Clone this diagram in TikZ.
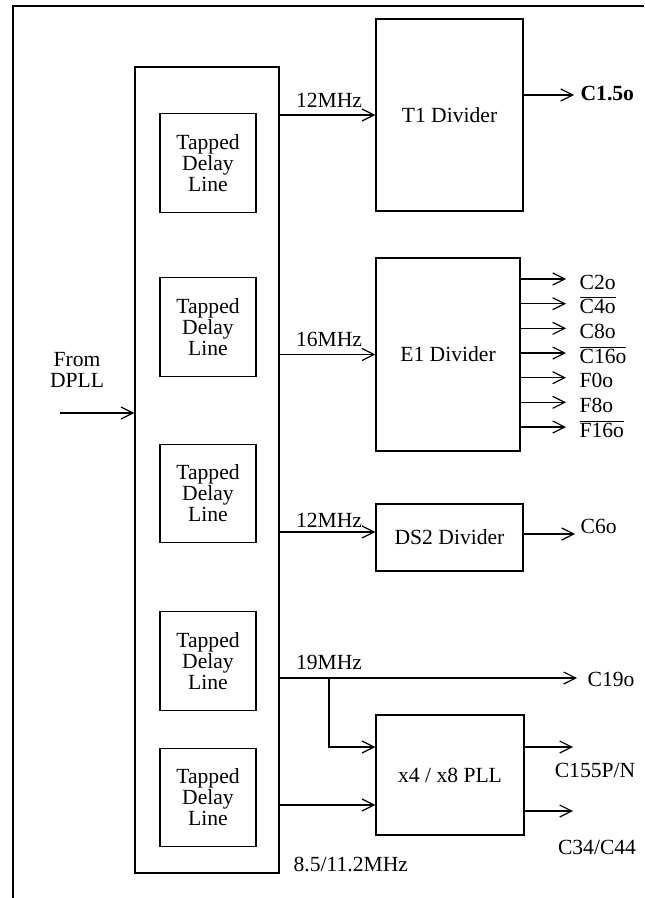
\documentclass[tikz,border=0pt]{standalone}
\usepackage{fontspec}
\setmainfont{Liberation Serif}
\usetikzlibrary{arrows.meta}

\begin{document}
\begin{tikzpicture}[
  x=0.75pt, y=-0.75pt, line width=0.9pt,
  font=\fontsize{16.2}{15.8}\selectfont,
  bank/.style={draw, minimum width=108pt, minimum height=604.5pt, inner sep=0pt},
  tdl/.style={draw, minimum width=72pt, minimum height=74pt,
              inner sep=0pt, align=center},
  divbox/.style={draw, minimum width=110.25pt, inner sep=0pt, align=center},
  flow/.style={-{Straight Barb[length=9pt, width=9pt]}},
  outlbl/.style={inner sep=0pt, anchor=base west},
  freq/.style={inner sep=0pt}
]
  \useasboundingbox (0,0) rectangle (644,898);
  % frame (cut at the page edges)
  \draw (13,898) -- (13,6) -- (644,6);

  \node[bank] (delays) at (207,470) {};
  \foreach \i/\y in {1/163, 2/327, 3/493.5, 4/661, 5/797.5}
    \node[tdl] (tdl\i) at (208,\y) {Tapped\\Delay\\Line};

  \node[divbox, minimum height=144pt] (t1) at (449.5,115) {T1 Divider};
  \node[divbox, minimum width=108pt, minimum height=144.75pt] (e1)
    at (448,354.5) {E1 Divider};
  \node[divbox, minimum height=50.25pt] (ds2) at (449.5,537.5) {DS2 Divider};
  \node[divbox, minimum width=111pt, minimum height=90pt] (pll)
    at (450,775) {x4 / x8 PLL};

  % input
  \node[freq, align=center] (dpll) at (77,370) {From\\DPLL};
  \coordinate (src) at (60,413);
  \draw[flow] (src) -- (src -| delays.west);

  % clocks out of the delay lines
  \coordinate (y12) at (0,532);
  \coordinate (y19) at (0,678);
  \coordinate (ypll) at (0,805);
  \draw[flow] (t1.west -| delays.east) -- (t1.west);
  \draw[flow] (e1.west -| delays.east) -- (e1.west);
  \draw[flow] (y12 -| delays.east) -- (y12 -| ds2.west);
  \coordinate (c19end) at (577,678);
  \draw[flow] (y19 -| delays.east) -- (c19end);
  \coordinate (tap19) at (329,678);
  \coordinate (y155) at (0,747);
  \draw[flow] (tap19) |- (y155 -| pll.west);
  \draw[flow] (ypll -| delays.east) -- (ypll -| pll.west);

  \node[freq] (f12a) at (329,100) {12MHz};
  \node[freq] (f16) at (329,339) {16MHz};
  \node[freq] (f12b) at (329,520) {12MHz};
  \node[freq] (f19) at (329,662) {19MHz};
  \node[freq, anchor=west] (f85) at (293,864) {8.5/11.2MHz};

  % outputs
  \coordinate (c15end) at (574,95);
  \draw[flow] (t1.east |- c15end) -- (c15end);
  \node[outlbl] (c15) at (580,101) {\textbf{C1.5o}};

  \foreach \k/\txt in {0/{C2o}, 1/{$\overline{\mbox{C4o}}$}, 2/{C8o},
      3/{$\overline{\mbox{C16o}}$}, 4/{F0o}, 5/{F8o}, 6/{$\overline{\mbox{F16o}}$}} {
    \coordinate (e1o\k) at (566,{279+24.67*\k});
    \draw[flow] (e1.east |- e1o\k) -- (e1o\k);
    \node[outlbl] (e1l\k) at (579,{289+24.67*\k}) {\txt};
  }

  \coordinate (c6end) at (575,534);
  \draw[flow] (ds2.east |- c6end) -- (c6end);
  \node[outlbl] (c6) at (580,533) {C6o};
  \node[outlbl] (c19) at (587,686) {C19o};

  \coordinate (c155end) at (573,747);
  \coordinate (c34end) at (573,811);
  \draw[flow] (pll.east |- c155end) -- (c155end);
  \draw[flow] (pll.east |- c34end) -- (c34end);
  \node[freq] (c155) at (595,770) {C155P/N};
  \node[freq] (c34) at (597,847) {C34/C44};
\end{tikzpicture}
\end{document}
